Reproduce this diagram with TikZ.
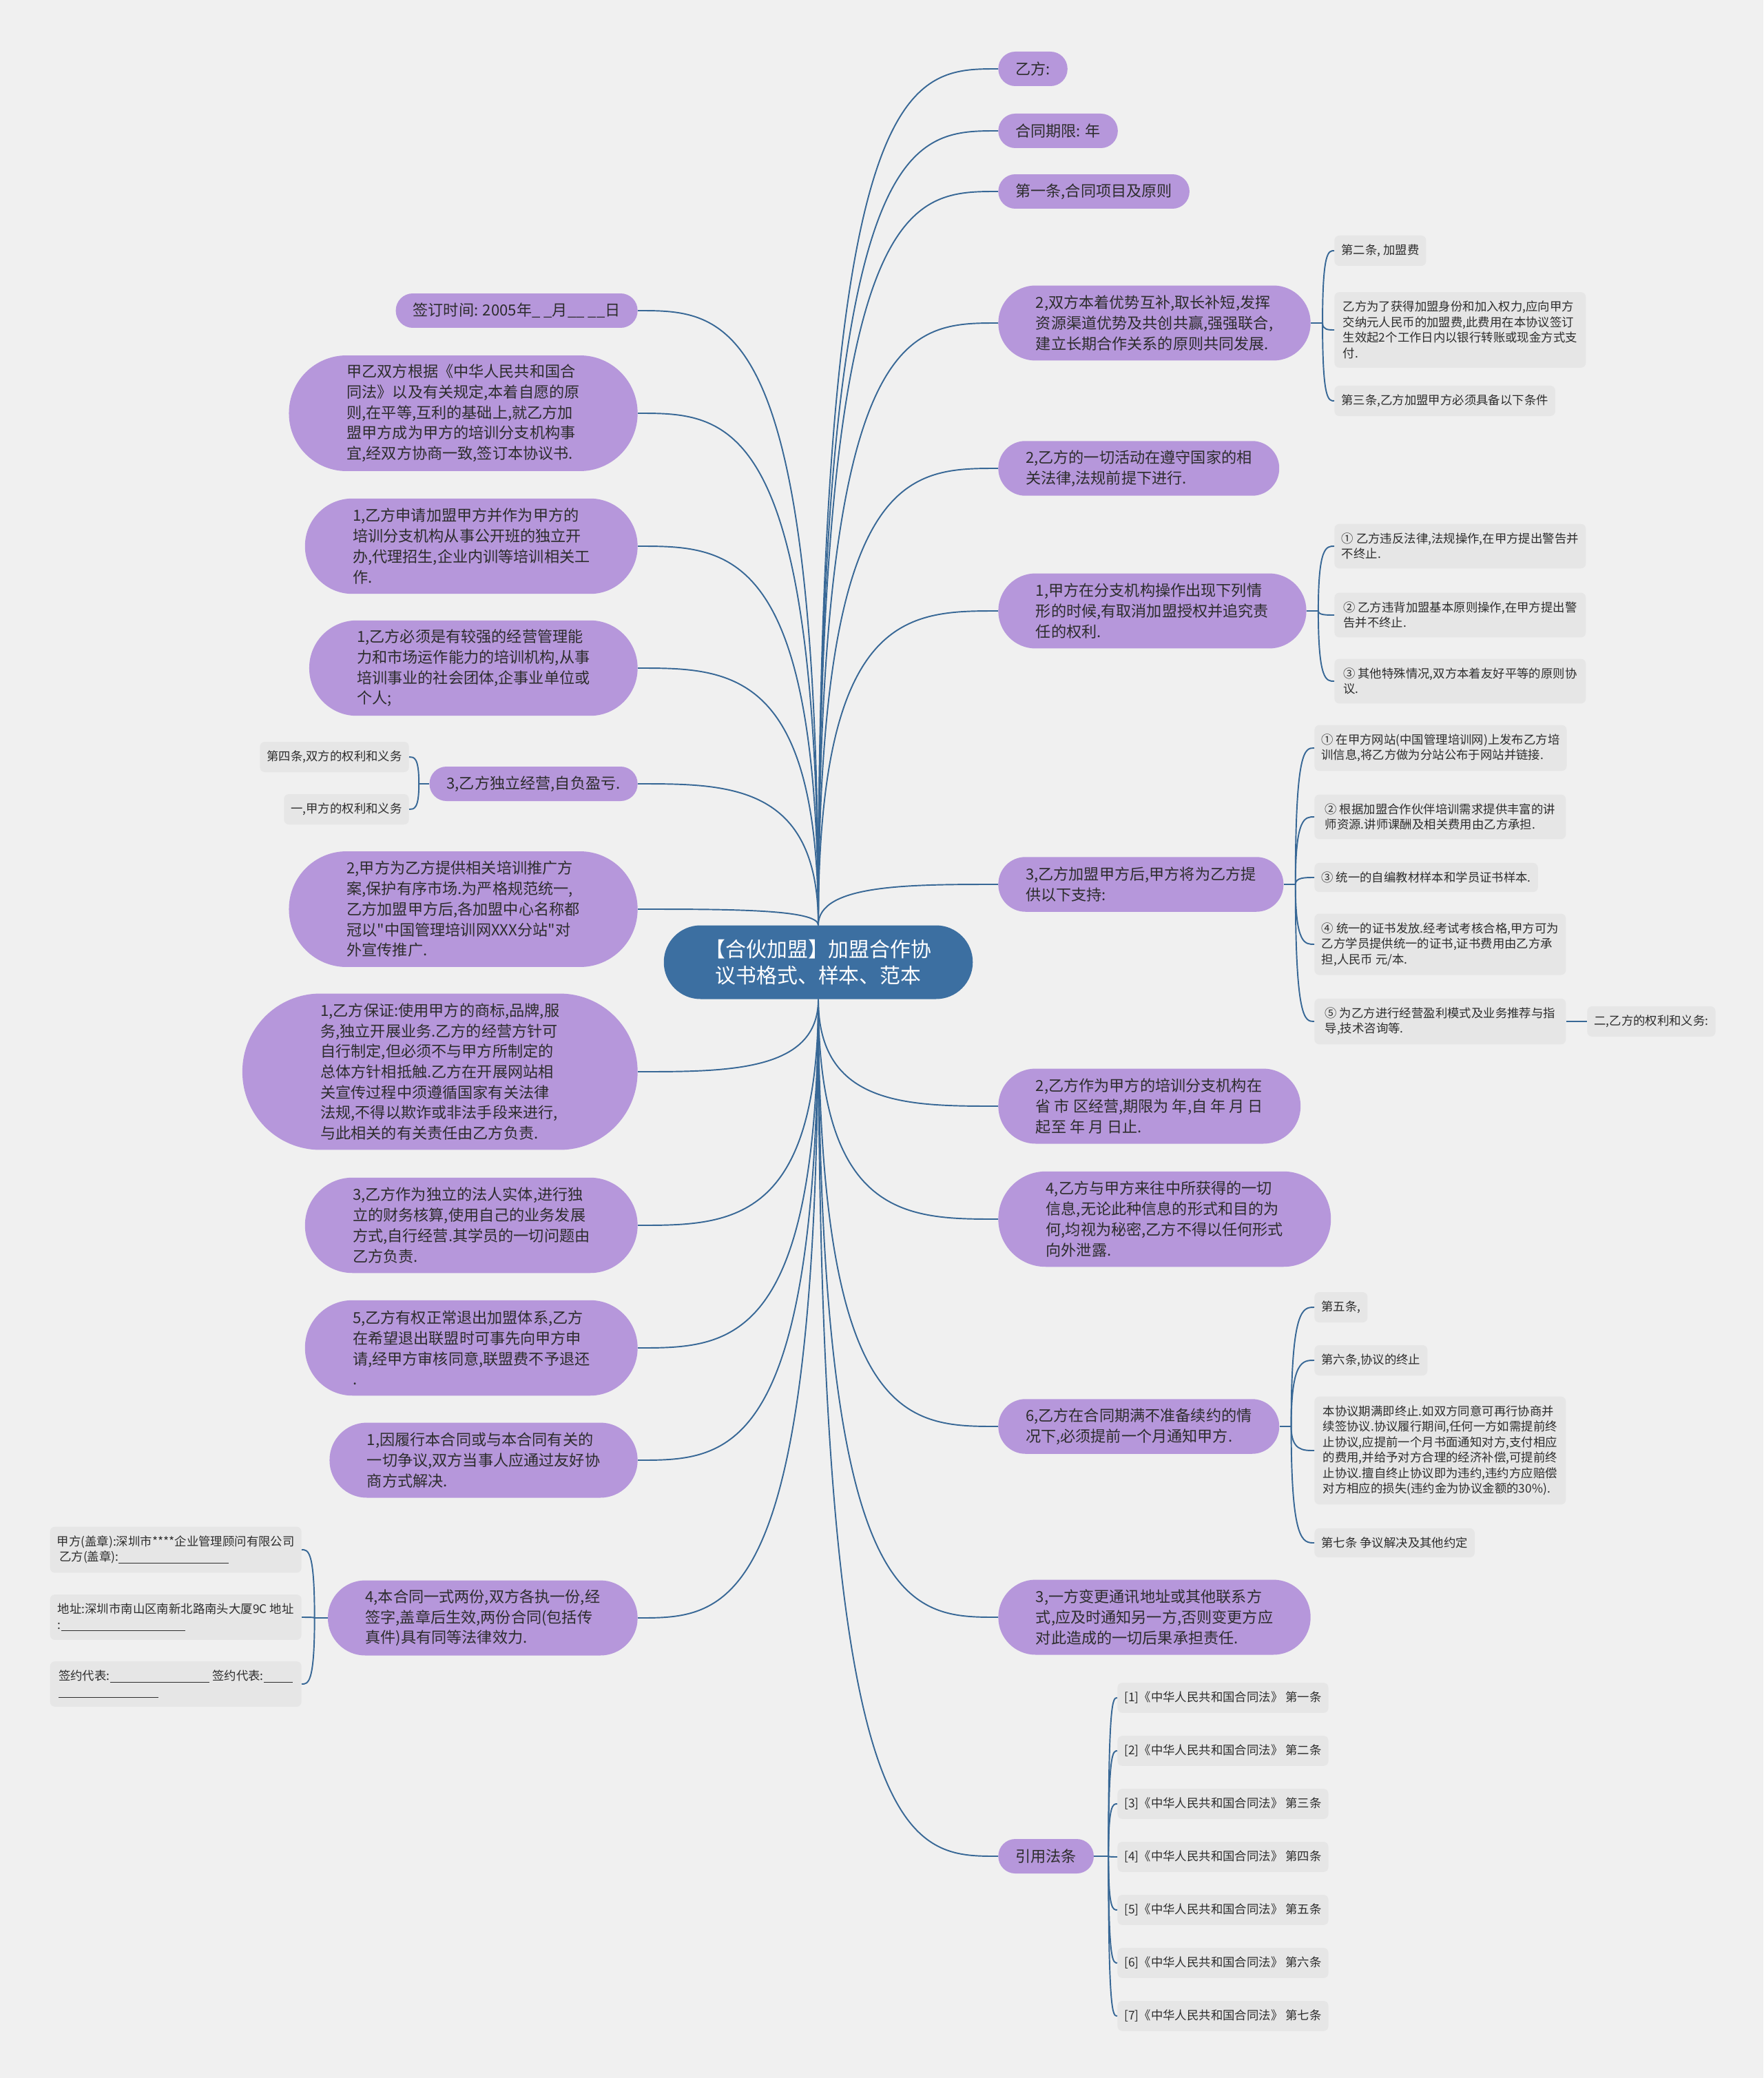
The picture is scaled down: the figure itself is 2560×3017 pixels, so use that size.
\documentclass[tikz,border=0pt]{standalone}
\usepackage{fontspec}
\newfontfamily\cjk{Noto Sans CJK SC}
\usetikzlibrary{calc,positioning}

\definecolor{bgcol}{RGB}{240,240,240}
\definecolor{pnode}{RGB}{182,151,219}
\definecolor{hubcol}{RGB}{60,111,161}
\definecolor{linecol}{RGB}{56,104,150}
\definecolor{leafcol}{RGB}{230,230,230}
\definecolor{txtcol}{RGB}{45,45,45}

\newcommand{\fillin}[1]{\rule[-1.5pt]{#1}{0.5pt}}

\begin{document}
\begin{tikzpicture}[x=0.02cm, y=-0.02cm, node distance=1.54cm,
    hub/.style={rectangle, rounded corners=1.065cm, minimum height=2.14cm, fill=hubcol, text=white, align=center, font={\cjk\fontsize{17}{21.8}\selectfont}, inner xsep=1.2cm, inner ysep=0pt},
    topic/.style={rectangle, fill=pnode, text=txtcol, align=left, font={\cjk\fontsize{12.6}{16.9}\selectfont}, inner ysep=0pt, minimum height={1cm+0.59cm*(#1-1)}, rounded corners={0.5cm+0.295cm*(#1-1)-0.2pt}, inner xsep={0.5cm+0.295cm*(#1-1)}},
    topic/.default=1,
    leaf/.style={rectangle, rounded corners=4pt, fill=leafcol, text=txtcol, align=left, font={\cjk\fontsize{9.9}{12.8}\selectfont}, inner xsep=0.2cm, inner ysep=0.26cm},
    wideleaf/.style={leaf, minimum width=7.3cm},
    link/.style={draw=linecol, line width=1.1pt},
    branch/.style={to path={.. controls (\tikztostart |- \tikztotarget) and ($(\tikztostart |- \tikztotarget)!0.5!(\tikztotarget)$) .. (\tikztotarget)}}]

    \fill[bgcol] (0,0) rectangle (2560,3017);

    % Central topic
    \node[hub] (hub) at (1188,1397) {【合伙加盟】加盟合作协\\议书格式、样本、范本};

    % Right branches
    \node[topic, anchor=west] (r1) at (1449,100) {乙方:};
    \node[topic, anchor=west] (r2) at (1449,190) {合同期限: 年};
    \node[topic, anchor=west] (r3) at (1449,278) {第一条,合同项目及原则};
    \node[topic=3, anchor=west] (r4) at (1449,469) {2,双方本着优势互补,取长补短,发挥\\资源渠道优势及共创共赢,强强联合,\\建立长期合作关系的原则共同发展.};
    \node[topic=2, anchor=west] (r5) at (1449,680) {2,乙方的一切活动在遵守国家的相\\关法律,法规前提下进行.};
    \node[topic=3, anchor=west] (r6) at (1449,887) {1,甲方在分支机构操作出现下列情\\形的时候,有取消加盟授权并追究责\\任的权利.};
    \node[topic=2, anchor=west] (r7) at (1449,1284) {3,乙方加盟甲方后,甲方将为乙方提\\供以下支持:};
    \node[topic=3, anchor=west] (r8) at (1449,1606) {2,乙方作为甲方的培训分支机构在\\省 市 区经营,期限为 年,自 年 月 日\\起至 年 月 日止.};
    \node[topic=4, anchor=west] (r9) at (1449,1770) {4,乙方与甲方来往中所获得的一切\\信息,无论此种信息的形式和目的为\\何,均视为秘密,乙方不得以任何形式\\向外泄露.};
    \node[topic=2, anchor=west] (r10) at (1449,2071) {6,乙方在合同期满不准备续约的情\\况下,必须提前一个月通知甲方.};
    \node[topic=3, anchor=west] (r11) at (1449,2348) {3,一方变更通讯地址或其他联系方\\式,应及时通知另一方,否则变更方应\\对此造成的一切后果承担责任.};
    \node[topic, anchor=west] (r12) at (1449,2695) {引用法条};

    % Right details
    \node[leaf, anchor=west] (r4a) at (1937,364) {第二条, 加盟费};
    \node[wideleaf, anchor=west] (r4b) at (1937,479) {乙方为了获得加盟身份和加入权力,应向甲方\\交纳元人民币的加盟费,此费用在本协议签订\\生效起2个工作日内以银行转账或现金方式支\\付.};
    \node[leaf, anchor=west] (r4c) at (1937,582) {第三条,乙方加盟甲方必须具备以下条件};

    \node[wideleaf, anchor=west] (r6a) at (1937,793) {① 乙方违反法律,法规操作,在甲方提出警告并\\不终止.};
    \node[wideleaf, anchor=west] (r6b) at (1937,893) {② 乙方违背加盟基本原则操作,在甲方提出警\\告并不终止.};
    \node[wideleaf, anchor=west] (r6c) at (1937,989) {③ 其他特殊情况,双方本着友好平等的原则协\\议.};

    \node[wideleaf, anchor=west] (r7a) at (1908,1086) {① 在甲方网站(中国管理培训网)上发布乙方培\\训信息,将乙方做为分站公布于网站并链接.};
    \node[wideleaf, anchor=west] (r7b) at (1908,1186) {② 根据加盟合作伙伴培训需求提供丰富的讲\\师资源.讲师课酬及相关费用由乙方承担.};
    \node[leaf, anchor=west] (r7c) at (1908,1274) {③ 统一的自编教材样本和学员证书样本.};
    \node[wideleaf, anchor=west] (r7d) at (1908,1371) {④ 统一的证书发放.经考试考核合格,甲方可为\\乙方学员提供统一的证书,证书费用由乙方承\\担,人民币 元/本.};
    \node[wideleaf, anchor=west] (r7e) at (1908,1483) {⑤ 为乙方进行经营盈利模式及业务推荐与指\\导,技术咨询等.};
    \node[leaf, anchor=west] (r7f) at (2304,1483) {二,乙方的权利和义务:};

    \node[leaf, anchor=west] (r10a) at (1908,1898) {第五条,};
    \node[leaf, anchor=west] (r10b) at (1908,1975) {第六条,协议的终止};
    \node[wideleaf, anchor=west] (r10c) at (1908,2106) {本协议期满即终止.如双方同意可再行协商并\\续签协议.协议履行期间,任何一方如需提前终\\止协议,应提前一个月书面通知对方,支付相应\\的费用,并给予对方合理的经济补偿,可提前终\\止协议.擅自终止协议即为违约,违约方应赔偿\\对方相应的损失(违约金为协议金额的30\%).};
    \node[leaf, anchor=west] (r10d) at (1908,2240) {第七条 争议解决及其他约定};

    \node[leaf, anchor=west] (law1) at (1622,2465) {[1]《中华人民共和国合同法》 第一条};
    \node[leaf, below of=law1] (law2) {[2]《中华人民共和国合同法》 第二条};
    \node[leaf, below of=law2] (law3) {[3]《中华人民共和国合同法》 第三条};
    \node[leaf, below of=law3] (law4) {[4]《中华人民共和国合同法》 第四条};
    \node[leaf, below of=law4] (law5) {[5]《中华人民共和国合同法》 第五条};
    \node[leaf, below of=law5] (law6) {[6]《中华人民共和国合同法》 第六条};
    \node[leaf, below of=law6] (law7) {[7]《中华人民共和国合同法》 第七条};

    % Left branches
    \node[topic, anchor=east] (l1) at (926,451) {签订时间: 2005年\_ \_月\_\_ \_\_日};
    \node[topic=5, anchor=east] (l2) at (926,600) {甲乙双方根据《中华人民共和国合\\同法》以及有关规定,本着自愿的原\\则,在平等,互利的基础上,就乙方加\\盟甲方成为甲方的培训分支机构事\\宜,经双方协商一致,签订本协议书.};
    \node[topic=4, anchor=east] (l3) at (926,793) {1,乙方申请加盟甲方并作为甲方的\\培训分支机构从事公开班的独立开\\办,代理招生,企业内训等培训相关工\\作.};
    \node[topic=4, anchor=east] (l4) at (926,970) {1,乙方必须是有较强的经营管理能\\力和市场运作能力的培训机构,从事\\培训事业的社会团体,企事业单位或\\个人;};
    \node[topic, anchor=east] (l5) at (926,1138) {3,乙方独立经营,自负盈亏.};
    \node[topic=5, anchor=east] (l6) at (926,1320) {2,甲方为乙方提供相关培训推广方\\案,保护有序市场.为严格规范统一,\\乙方加盟甲方后,各加盟中心名称都\\冠以"中国管理培训网XXX分站"对\\外宣传推广.};
    \node[topic=7, anchor=east] (l7) at (926,1556) {1,乙方保证:使用甲方的商标,品牌,服\\务,独立开展业务.乙方的经营方针可\\自行制定,但必须不与甲方所制定的\\总体方针相抵触.乙方在开展网站相\\关宣传过程中须遵循国家有关法律\\法规,不得以欺诈或非法手段来进行,\\与此相关的有关责任由乙方负责.};
    \node[topic=4, anchor=east] (l8) at (926,1779) {3,乙方作为独立的法人实体,进行独\\立的财务核算,使用自己的业务发展\\方式,自行经营.其学员的一切问题由\\乙方负责.};
    \node[topic=4, anchor=east] (l9) at (926,1957) {5,乙方有权正常退出加盟体系,乙方\\在希望退出联盟时可事先向甲方申\\请,经甲方审核同意,联盟费不予退还\\.};
    \node[topic=3, anchor=east] (l10) at (926,2120) {1,因履行本合同或与本合同有关的\\一切争议,双方当事人应通过友好协\\商方式解决.};
    \node[topic=3, anchor=east] (l11) at (926,2349) {4,本合同一式两份,双方各执一份,经\\签字,盖章后生效,两份合同(包括传\\真件)具有同等法律效力.};

    % Left details
    \node[leaf, anchor=east] (l5a) at (594,1099) {第四条,双方的权利和义务};
    \node[leaf, anchor=east] (l5b) at (594,1175) {一,甲方的权利和义务};
    \node[wideleaf, anchor=east] (l11a) at (438,2250) {甲方(盖章):深圳市****企业管理顾问有限公司\\\hspace{0.2em}乙方(盖章):\fillin{3.2cm}};
    \node[wideleaf, anchor=east] (l11b) at (438,2348) {地址:深圳市南山区南新北路南头大厦9C 地址\\:\fillin{3.6cm}};
    \node[wideleaf, anchor=east] (l11c) at (438,2445) {签约代表:\fillin{2.9cm} 签约代表:\fillin{0.85cm}\\\fillin{2.9cm}};

    % Main connectors
    \foreach \n in {r1,r2,r3,r4,r5,r6,r7,r8,r9,r10,r11,r12}
        \draw[link] (hub) to[branch] (\n.west);
    \foreach \n in {l1,l2,l3,l4,l5,l6,l7,l8,l9,l10,l11}
        \draw[link] (hub) to[branch] (\n.east);

    % Detail connectors
    \coordinate (r4j) at ([xshift=0.34cm]r4.east);
    \coordinate (r6j) at ([xshift=0.34cm]r6.east);
    \coordinate (r7j) at ([xshift=0.34cm]r7.east);
    \coordinate (r10j) at ([xshift=0.34cm]r10.east);
    \coordinate (r12j) at ([xshift=0.42cm]r12.east);
    \coordinate (l5j) at ([xshift=-0.3cm]l5.west);
    \coordinate (l11j) at ([xshift=-0.38cm]l11.west);
    \draw[link] (r4) -- (r4j);
    \draw[link] (r6) -- (r6j);
    \draw[link] (r7) -- (r7j);
    \draw[link] (r10) -- (r10j);
    \draw[link] (r12) -- (r12j);
    \draw[link] (l5) -- (l5j);
    \draw[link] (l11) -- (l11j);
    \foreach \n in {r4a,r4b,r4c} \draw[link] (r4j) to[branch] (\n.west);
    \foreach \n in {r6a,r6b,r6c} \draw[link] (r6j) to[branch] (\n.west);
    \foreach \n in {r7a,r7b,r7c,r7d,r7e} \draw[link] (r7j) to[branch] (\n.west);
    \foreach \n in {r10a,r10b,r10c,r10d} \draw[link] (r10j) to[branch] (\n.west);
    \foreach \n in {law1,law2,law3,law4,law5,law6,law7} \draw[link] (r12j) to[branch] (\n.west);
    \foreach \n in {l5a,l5b} \draw[link] (l5j) to[branch] (\n.east);
    \foreach \n in {l11a,l11b,l11c} \draw[link] (l11j) to[branch] (\n.east);
    \draw[link] (r7e) -- (r7f);
\end{tikzpicture}
\end{document}
